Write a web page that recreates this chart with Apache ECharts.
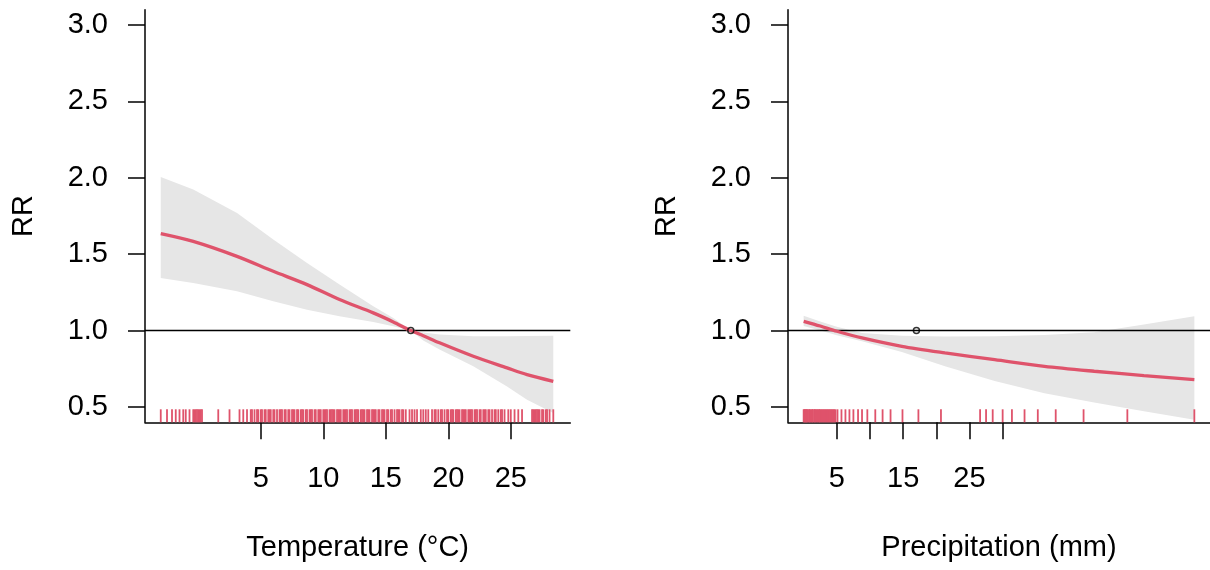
<!DOCTYPE html>
<html>
<head>
<meta charset="utf-8">
<script src="https://cdn.jsdelivr.net/npm/echarts@6/dist/echarts.min.js"></script>
<style>
  html, body { margin: 0; padding: 0; background: #fff; }
  #chart { width: 1210px; height: 570px; }
</style>
</head>
<body>
<div id="chart"></div>
<script>
// ---------------- data ----------------
// Temperature panel
const tempX     = [-3.0, -0.4, 3.1, 6.0, 8.7, 11.3, 14.0, 15.6, 17.0, 18.0, 19.3, 22.0, 24.7, 26.3, 28.4];
const tempRR    = [1.635, 1.584, 1.486, 1.388, 1.301, 1.203, 1.116, 1.057, 1.0, 0.967, 0.92, 0.832, 0.756, 0.712, 0.668];
const tempUpper = [2.006, 1.923, 1.770, 1.596, 1.443, 1.301, 1.159, 1.083, 1.0, 0.988, 0.974, 0.963, 0.963, 0.965, 0.967];
const tempLower = [1.345, 1.312, 1.257, 1.192, 1.137, 1.094, 1.057, 1.028, 1.0, 0.935, 0.876, 0.766, 0.635, 0.548, 0.461];
const tempRug = [-3.0, -2.5, -2.1, -1.8, -1.5, -1.2, -1.0, -0.7, -0.4, -0.3, -0.2, -0.1, 0.0, 0.1, 0.2, 0.3,
  1.6, 2.5, 3.3, 3.6, 3.9, 4.2, 4.3, 4.5, 4.7, 4.8,
  5.0, 5.1, 5.3, 5.4, 5.6, 5.7, 5.8, 6.0, 6.1, 6.3, 6.5, 6.6, 6.7, 6.9, 7.0, 7.2, 7.3, 7.5, 7.6, 7.7,
  7.9, 8.0, 8.2, 8.3, 8.4, 8.6, 8.7, 8.9, 9.0, 9.1, 9.3, 9.4, 9.6, 9.7, 9.8, 10.0, 10.1, 10.2, 10.3,
  10.5, 10.6, 10.7, 10.8, 10.9, 11.1, 11.2, 11.3, 11.4, 11.6, 11.7, 11.8, 11.9, 12.1, 12.2, 12.3, 12.5,
  12.6, 12.7, 12.8, 13.0, 13.1, 13.2, 13.3, 13.5, 13.6, 13.7, 13.9, 14.0, 14.1, 14.2, 14.4, 14.5, 14.7,
  14.8, 14.9, 15.1, 15.2, 15.4, 15.5, 15.7, 15.9, 16.0, 16.1, 16.3, 16.4, 16.6, 16.9, 17.1, 17.3, 17.5,
  17.8, 18.0, 18.2, 18.4, 18.7, 18.9, 19.0, 19.2, 19.4, 19.5, 19.7, 19.9, 20.0, 20.2, 20.3, 20.4, 20.6,
  20.7, 20.8, 20.9, 21.1, 21.2, 21.3, 21.4, 21.6, 21.7, 21.8, 21.9, 22.1, 22.2, 22.3, 22.5, 22.6, 22.8,
  22.9, 23.0, 23.2, 23.3, 23.5, 23.7, 23.8, 24.0, 24.2, 24.3, 24.5, 24.8, 25.0, 25.3, 25.6, 25.9,
  26.7, 26.8, 26.9, 27.0, 27.1, 27.2, 27.3, 27.5, 27.6, 27.8, 27.9, 28.1, 28.4];
const tempTicks  = [5, 10, 15, 20, 25];
const tempLabels = [5, 10, 15, 20, 25];
const tempCen = [17];

// Precipitation panel
const precX     = [0, 2.5, 5, 8.8, 14.8, 21.3, 28.8, 36.3, 43.8, 51.3, 58.9];
const precRR    = [1.061, 1.03, 0.996, 0.952, 0.897, 0.854, 0.810, 0.766, 0.734, 0.706, 0.679];
const precUpper = [1.098, 1.06, 1.025, 0.985, 0.966, 0.962, 0.963, 0.972, 0.99, 1.04, 1.094];
const precLower = [1.03, 1.0, 0.97, 0.93, 0.86, 0.766, 0.67, 0.59, 0.53, 0.472, 0.417];
const precRug = [0.0, 0.1, 0.2, 0.3, 0.4, 0.5, 0.6, 0.8, 0.9, 1.0, 1.2, 1.3, 1.4, 1.6, 1.7, 1.8, 2.0, 2.1,
  2.3, 2.4, 2.5, 2.7, 2.8, 3.0, 3.1, 3.3, 3.4, 3.6, 3.7, 3.9, 4.0, 4.2, 4.3, 4.5, 4.6, 4.8,
  5.1, 5.7, 6.3, 6.9, 7.5, 8.2, 8.8, 9.6, 10.8, 11.9, 13.1, 14.9, 17.3, 20.7, 26.6, 27.5, 28.5,
  30.0, 31.4, 33.3, 35.3, 38.0, 42.2, 48.8, 58.9];
const precTicks  = [5, 10, 15, 20, 25, 30];
const precLabels = [5, 15, 25];
const precCen = [17];

// axes
const rrTicks = [0.5, 1.0, 1.5, 2.0, 2.5, 3.0];
const rrRef = 1.0;
const Y_MIN = 0.4, Y_MAX = 3.1;
const TEMP_MIN = -4.26, TEMP_MAX = 29.76;
const PREC_MIN = -2.36, PREC_MAX = 61.26;

// ---------------- styling ----------------
const RED = '#DF536B';
const BAND = '#E6E6E6';
const FONT = "'Liberation Sans', Arial, sans-serif";
const FS = 29;

function makeX(idx, min, max, ticks, labels, name) {
  return {
    type: 'value', gridIndex: idx, min: min, max: max,
    name: name, nameLocation: 'middle', nameGap: 111,
    nameTextStyle: { color: '#000', fontSize: FS, fontFamily: FONT },
    axisLine: { show: true, onZero: false, lineStyle: { color: '#000', width: 1.5 } },
    axisTick: { show: true, customValues: ticks, length: 17, lineStyle: { color: '#000', width: 1.5 } },
    axisLabel: { show: true, customValues: labels, margin: 42, color: '#000', fontSize: FS, fontFamily: FONT },
    splitLine: { show: false }
  };
}
function makeY(idx) {
  return {
    type: 'value', gridIndex: idx, min: Y_MIN, max: Y_MAX,
    name: 'RR', nameLocation: 'middle', nameGap: 107, nameRotate: 90,
    nameTextStyle: { color: '#000', fontSize: FS, fontFamily: FONT },
    axisLine: { show: true, onZero: false, lineStyle: { color: '#000', width: 1.5 } },
    axisTick: { show: true, customValues: rrTicks, length: 17, lineStyle: { color: '#000', width: 1.5 } },
    axisLabel: { show: true, customValues: rrTicks, margin: 37, color: '#000', fontSize: FS, fontFamily: FONT,
      formatter: v => Number(v).toFixed(1) },
    splitLine: { show: false }
  };
}

function bandSeries(idx, xs, lo, hi) {
  return {
    type: 'custom', xAxisIndex: idx, yAxisIndex: idx, z: 1, silent: true,
    data: [[xs[0], lo[0]]],
    encode: { x: 0, y: 1 },
    renderItem: function (params, api) {
      const pts = [];
      for (let i = 0; i < xs.length; i++) pts.push(api.coord([xs[i], hi[i]]));
      for (let i = xs.length - 1; i >= 0; i--) pts.push(api.coord([xs[i], lo[i]]));
      return { type: 'polygon', shape: { points: pts }, style: { fill: BAND, stroke: null } };
    }
  };
}
function rugSeries(idx, vals) {
  return {
    type: 'custom', xAxisIndex: idx, yAxisIndex: idx, z: 2, silent: true,
    data: vals.map(v => [v, Y_MIN]),
    encode: { x: 0, y: 1 },
    renderItem: function (params, api) {
      const p = api.coord([api.value(0), api.value(1)]);
      return { type: 'line', shape: { x1: p[0], y1: p[1], x2: p[0], y2: p[1] - 13 },
        style: { stroke: RED, lineWidth: 1.8 } };
    }
  };
}
function refLine(idx, min, max) {
  return {
    type: 'line', xAxisIndex: idx, yAxisIndex: idx, z: 3, silent: true,
    data: [[min, rrRef], [max, rrRef]], showSymbol: false, symbol: 'none',
    lineStyle: { color: '#000', width: 1.5 }
  };
}
function curve(idx, xs, ys) {
  return {
    type: 'line', xAxisIndex: idx, yAxisIndex: idx, z: 4, silent: true,
    data: xs.map((x, i) => [x, ys[i]]), showSymbol: false, symbol: 'none', smooth: 0.3,
    lineStyle: { color: RED, width: 3.3 }
  };
}
function cenPoint(idx, cen) {
  return {
    type: 'scatter', xAxisIndex: idx, yAxisIndex: idx, z: 5, silent: true,
    data: cen.map(c => [c, rrRef]), symbol: 'circle', symbolSize: 6,
    itemStyle: { color: 'rgba(0,0,0,0)', borderColor: '#000', borderWidth: 1.5 }
  };
}

const chart = echarts.init(document.getElementById('chart'), null, { renderer: 'canvas' });
chart.setOption({
  animation: false,
  backgroundColor: '#fff',
  grid: [
    { left: 145, top: 9.7, width: 425.3, height: 412.6, containLabel: false },
    { left: 788, top: 9.7, width: 425.6, height: 412.6, containLabel: false }
  ],
  xAxis: [
    makeX(0, TEMP_MIN, TEMP_MAX, tempTicks, tempLabels, 'Temperature (°C)'),
    makeX(1, PREC_MIN, PREC_MAX, precTicks, precLabels, 'Precipitation (mm)')
  ],
  yAxis: [makeY(0), makeY(1)],
  series: [
    bandSeries(0, tempX, tempLower, tempUpper),
    rugSeries(0, tempRug),
    refLine(0, TEMP_MIN, TEMP_MAX),
    curve(0, tempX, tempRR),
    cenPoint(0, tempCen),
    bandSeries(1, precX, precLower, precUpper),
    rugSeries(1, precRug),
    refLine(1, PREC_MIN, PREC_MAX),
    curve(1, precX, precRR),
    cenPoint(1, precCen)
  ]
});
</script>
</body>
</html>
